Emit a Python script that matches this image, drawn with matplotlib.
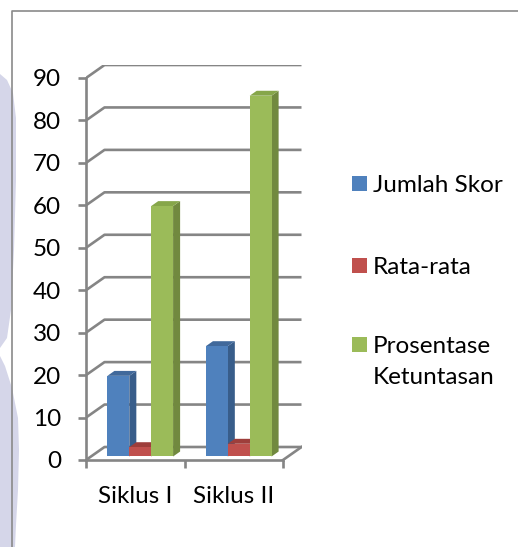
import matplotlib
matplotlib.use("Agg")
import matplotlib.pyplot as plt
from matplotlib.patches import Polygon, Rectangle

# ---- data ----
categories = ["Siklus I", "Siklus II"]
series_names = ["Jumlah Skor", "Rata-rata", "Prosentase\nKetuntasan"]
jumlah_skor = [19, 26]
rata_rata = [2.2, 3.0]
prosentase = [59, 85]
y_ticks = [0, 10, 20, 30, 40, 50, 60, 70, 80, 90]

values = [jumlah_skor, rata_rata, prosentase]
front_colors = ["#4F81BD", "#C0504D", "#9BBB59"]
side_colors = ["#385D8A", "#8C3836", "#71893F"]
top_colors = ["#41699B", "#9E3E3B", "#86A64A"]

W, H, DPI = 518, 547, 100
fig = plt.figure(figsize=(W / DPI, H / DPI), dpi=DPI)
FONT = "Lato"
FS = 17.5

# background decoration (watermark + border)
bg = fig.add_axes([0, 0, 1, 1], zorder=-5)
bg.set_xlim(0, W)
bg.set_ylim(H, 0)
bg.axis("off")
lav = "#D5D6E9"
bg.add_patch(Polygon([(0, 74), (7, 80), (13, 93), (16, 118), (16, 180), (14, 250),
                      (11, 310), (7, 338), (0, 348)], closed=True, fc=lav, ec="none"))
bg.add_patch(Polygon([(0, 356), (5, 366), (12, 388), (18, 418), (19, 450), (18, 490),
                      (16, 525), (15, 547), (0, 547)], closed=True, fc=lav, ec="none"))
bg.plot([12, 12, W], [H, 11, 11], color="#8A8A8A", lw=1.2, solid_capstyle="butt")

# ---- plot geometry (in data units) ----
ymax = 90
px_per_unit_y = (460 - 78) / ymax
px_per_cat = (283 - 86) / 2
DX = 18.5 / px_per_cat
DY = 13.0 / px_per_unit_y
ax_left, ax_bottom_px = 86, 460
ax_w = (2 + DX) * px_per_cat
ax_h = (ymax + DY) * px_per_unit_y
ax = fig.add_axes([ax_left / W, (H - ax_bottom_px) / H, ax_w / W, ax_h / H])
ax.set_xlim(0, 2 + DX)
ax.set_ylim(0, ymax + DY)
ax.patch.set_alpha(0)

grid_c = "#858585"
glw = 1.9
for v in y_ticks:
    ax.plot([0, DX, 2 + DX], [v, v + DY, v + DY], color=grid_c, lw=glw, zorder=1,
            solid_capstyle="butt")
ax.plot([2, 2 + DX], [0, DY], color=grid_c, lw=glw, zorder=1)

for s in ["top", "right"]:
    ax.spines[s].set_visible(False)
for s in ["left", "bottom"]:
    ax.spines[s].set_color(grid_c)
    ax.spines[s].set_linewidth(glw)
ax.spines["left"].set_bounds(0, ymax)
ax.spines["bottom"].set_bounds(0, 2)
ax.set_yticks(y_ticks)
ax.set_yticklabels([str(t) for t in y_ticks], fontfamily=FONT, fontsize=FS)
ax.set_xticks([0, 1, 2])
ax.set_xticklabels([])
ax.set_xticks([0.5, 1.5], minor=True)
ax.set_xticklabels(categories, minor=True, fontfamily=FONT, fontsize=FS)
ax.tick_params(axis="y", length=6, width=glw, color=grid_c, pad=12)
ax.tick_params(axis="x", which="major", length=6, width=glw, color=grid_c)
ax.tick_params(axis="x", which="minor", length=0, pad=19)

# ---- 3D-ish bars ----
gap = 1.5
bw = 1.0 / (3 + gap)
f0, f1 = 0.27, 0.65
for j, vals in enumerate(values):
    for i, v in enumerate(vals):
        x0 = i + 0.5 - 1.5 * bw + j * bw
        ox0, oy0 = f0 * DX, f0 * DY
        ox1, oy1 = f1 * DX, f1 * DY
        front = [(x0 + ox0, oy0), (x0 + bw + ox0, oy0), (x0 + bw + ox0, v + oy0), (x0 + ox0, v + oy0)]
        side = [(x0 + bw + ox0, oy0), (x0 + bw + ox1, oy1), (x0 + bw + ox1, v + oy1), (x0 + bw + ox0, v + oy0)]
        top = [(x0 + ox0, v + oy0), (x0 + bw + ox0, v + oy0), (x0 + bw + ox1, v + oy1), (x0 + ox1, v + oy1)]
        z = 3 + i * 3 + j
        ax.add_patch(Polygon(side, closed=True, fc=side_colors[j], ec="none", zorder=z))
        ax.add_patch(Polygon(top, closed=True, fc=top_colors[j], ec="none", zorder=z))
        ax.add_patch(Polygon(front, closed=True, fc=front_colors[j], ec="none", zorder=z + 0.5))

# ---- legend (manual, entry square aligned with first text line) ----
leg_y = [183, 265, 344]
line_step = 31
for name, c, yc in zip(series_names, front_colors, leg_y):
    bg.add_patch(Rectangle((352, yc - 7.5), 15, 15, fc=c, ec="none"))
    for k, line in enumerate(name.split("\n")):
        bg.text(373, yc + 9 + k * line_step, line, family=FONT, fontsize=FS,
                va="baseline", ha="left")

fig.savefig("out.png", dpi=DPI)
